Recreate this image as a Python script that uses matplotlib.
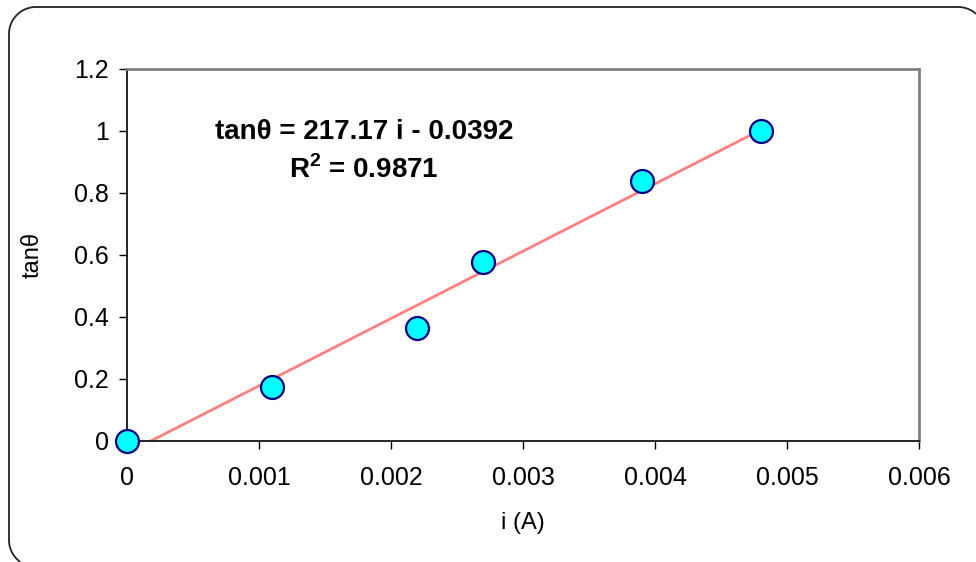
import matplotlib
matplotlib.use("Agg")
import matplotlib.pyplot as plt
from matplotlib.lines import Line2D
import numpy as np

plt.rcParams['font.family'] = ['Liberation Sans', 'DejaVu Sans']
plt.rcParams['mathtext.fontset'] = 'custom'
plt.rcParams['mathtext.rm'] = 'Liberation Sans'
plt.rcParams['mathtext.bf'] = 'Liberation Sans:bold'

current = [0, 0.0011, 0.0022, 0.0027, 0.0039, 0.0048]
tan_theta = [0, 0.175, 0.365, 0.578, 0.84, 1.0]
slope = 217.17
intercept = -0.0392
r2 = 0.9871
xticks = [0, 0.001, 0.002, 0.003, 0.004, 0.005, 0.006]
xticklabels = ['0', '0.001', '0.002', '0.003', '0.004', '0.005', '0.006']
yticks = [0, 0.2, 0.4, 0.6, 0.8, 1.0, 1.2]
yticklabels = ['0', '0.2', '0.4', '0.6', '0.8', '1', '1.2']

W, H = 976, 562
fig = plt.figure(figsize=(W/100, H/100), dpi=100)

# outer rounded border: only the part that lies inside the canvas
# (pixel units, y downward, then mapped to figure fraction)
L, T, R, B, rad = 9, 7, 985, 567, 27
def arc(cx, cy, a0, a1, n=24):
    a = np.linspace(np.radians(a0), np.radians(a1), n)
    return np.column_stack([cx + rad*np.cos(a), cy + rad*np.sin(a)])
a_tr = 360 - np.degrees(np.arccos((W - (R - rad)) / rad))
a_bl = 180 - np.degrees(np.arcsin((H - (B - rad)) / rad))
pts = np.vstack([
    arc(L + rad, B - rad, a_bl, 180),
    arc(L + rad, T + rad, 180, 270),
    arc(R - rad, T + rad, 270, a_tr),
])
border = Line2D(pts[:, 0] / W, 1 - pts[:, 1] / H, transform=fig.transFigure,
                color='#222222', linewidth=1.3, solid_capstyle='butt')
fig.lines.append(border)

ax = fig.add_axes([127/W, (H - 441)/H, 792/W, 372/H])
ax.set_xlim(0, 0.006)
ax.set_ylim(0, 1.2)

xl = np.array([min(current), max(current)])
ax.plot(xl, slope * xl + intercept, color='#FF8080', linewidth=2, zorder=2)
ax.plot(current, tan_theta, linestyle='none', marker='o', markersize=16.5,
        markerfacecolor='#00FFFF', markeredgecolor='#000080',
        markeredgewidth=1.6, zorder=3, clip_on=False)

ax.set_xticks(xticks)
ax.set_xticklabels(xticklabels)
ax.set_yticks(yticks)
ax.set_yticklabels(yticklabels)
ax.tick_params(axis='both', direction='out', length=6, width=1, color='black',
               labelsize=18)
ax.tick_params(axis='x', pad=12)
ax.tick_params(axis='y', pad=7)

for s in ['left', 'bottom']:
    ax.spines[s].set_color('black')
    ax.spines[s].set_linewidth(1.2)
for s in ['top', 'right']:
    ax.spines[s].set_color('#808080')
    ax.spines[s].set_linewidth(2)

ax.set_xlabel('i (A)', fontsize=17, labelpad=16)
ax.set_ylabel('tanθ', fontsize=17, labelpad=22)

ax.text(0.299, 0.830, 'tanθ = %.2f i - %.4f' % (slope, -intercept),
        transform=ax.transAxes, ha='center', va='center', fontsize=20,
        fontweight='bold')
ax.text(0.299, 0.730, r'R$^\mathbf{2}$ = %.4f' % r2,
        transform=ax.transAxes, ha='center', va='center', fontsize=20,
        fontweight='bold')

fig.savefig('out.png', dpi=100)
